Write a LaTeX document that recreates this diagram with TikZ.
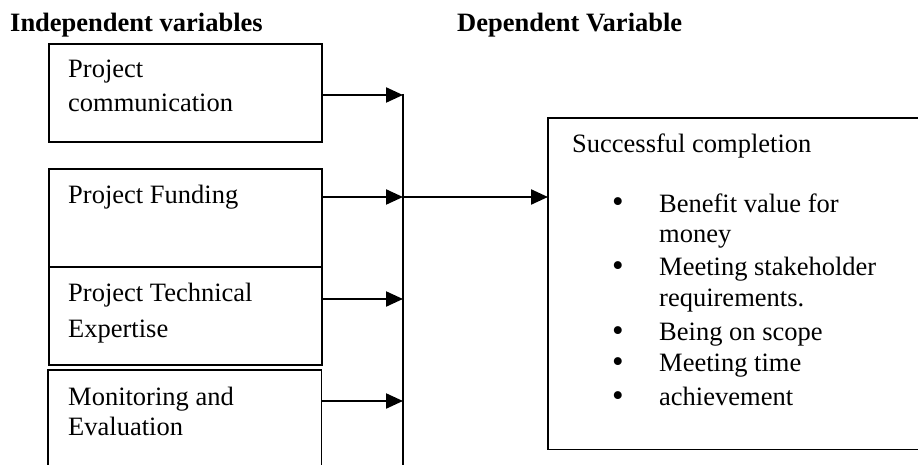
\documentclass[tikz,border=0pt]{standalone}
\usepackage{fontspec}
\setmainfont{Liberation Serif}
\usetikzlibrary{arrows.meta}
\begin{document}
\begin{tikzpicture}[x=1pt,y=-1pt,
  txt/.style={inner sep=0pt, anchor=base west, align=left, font=\fontsize{26.5pt}{33pt}\selectfont},
  head/.style={inner sep=0pt, anchor=base west, font=\fontsize{26.5pt}{33pt}\selectfont\bfseries},
  bul/.style={inner sep=0pt, anchor=base, font=\fontsize{33pt}{36pt}\selectfont},
  box/.style={draw, line width=1.8pt, inner sep=0pt, anchor=north west, minimum width=273pt},
  open/.style={draw=none, inner sep=0pt, anchor=north west},
  edge/.style={line width=1.8pt},
  conn/.style={line width=2.2pt, -{Triangle[length=17pt,width=15pt]}},
]
\useasboundingbox (0,0) rectangle (918,465);
\fill[white] (0,0) rectangle (918,465);

% headings
\node[head] (hi) at (10,32) {Independent variables};
\node[head] (hd) at (457,32) {Dependent Variable};

% independent variable boxes
\node[box, minimum height=98pt] (b1) at (48,43) {};
\node[box, minimum height=98pt] (b2) at (48,168) {};
\node[box, minimum height=98pt] (b3) at (48,266) {};
\node[open, minimum width=273pt, minimum height=105pt] (b4) at (48,370) {};
\draw[edge] (b4.south west) -- (b4.north west) -- (b4.north east) -- (b4.south east);

% multi-line nodes: base anchor is the last line's baseline
\node[txt, font=\fontsize{26.5pt}{34pt}\selectfont] (t1) at (68,112) {Project\\communication};
\node[txt] (t2) at (68,204) {Project Funding};
\node[txt, font=\fontsize{26.5pt}{36pt}\selectfont] (t3) at (68,337) {Project Technical\\Expertise};
\node[txt, font=\fontsize{26.5pt}{30pt}\selectfont] (t4) at (68,435) {Monitoring and\\Evaluation};

% bus
\coordinate (bt) at (403,94);
\coordinate (bb) at (403,470);
\draw[edge] (bt) -- (bb);
\coordinate (p1) at (403,95);
\coordinate (p2) at (403,197);
\coordinate (p3) at (403,299);
\coordinate (p4) at (403,401);

% dependent variable box
\node[open, minimum width=390pt, minimum height=331pt] (r) at (548,118) {};
\draw[edge] (r.north east) -- (r.north west) -- (r.south west) -- (r.south east);
\node[txt] (rt) at (572,153) {Successful completion};

\node[bul] (d1) at (618,213) {\textbullet};
\node[bul] (d2) at (618,276.5) {\textbullet};
\node[bul] (d3) at (618,341) {\textbullet};
\node[bul] (d4) at (618,372) {\textbullet};
\node[bul] (d5) at (618,406) {\textbullet};
\node[txt, font=\fontsize{26.5pt}{30.5pt}\selectfont] (i1) at (659,242.5) {Benefit value for\\money};
\node[txt, font=\fontsize{26.5pt}{31pt}\selectfont] (i2) at (659,306.5) {Meeting stakeholder\\requirements.};
\node[txt] (i3) at (659,340) {Being on scope};
\node[txt] (i4) at (659,371) {Meeting time};
\node[txt] (i5) at (659,405) {achievement};

% connectors
\draw[conn] (b1.east |- p1) -- (p1);
\draw[conn] (b2.east |- p2) -- (p2);
\draw[conn] (b3.east |- p3) -- (p3);
\draw[conn] (b4.east |- p4) -- (p4);
\draw[conn] (p2) -- (r.west |- p2);
\end{tikzpicture}
\end{document}
